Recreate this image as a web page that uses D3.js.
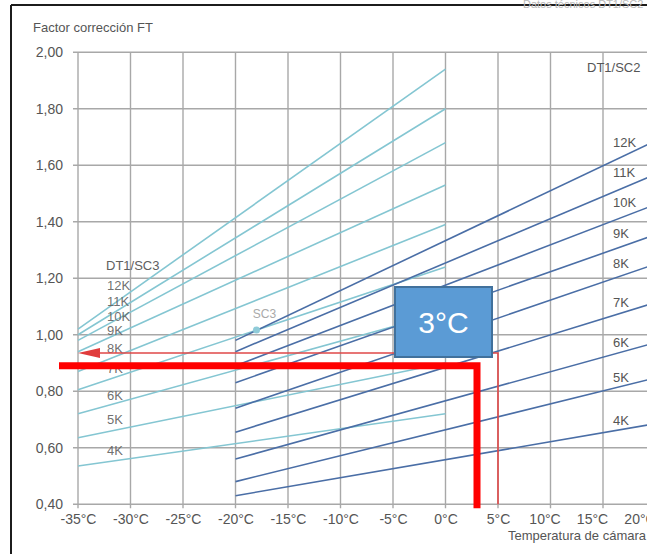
<!DOCTYPE html>
<html>
<head>
<meta charset="utf-8">
<script src="https://cdn.jsdelivr.net/npm/d3@7"></script>
<style>
  html, body { margin: 0; padding: 0; background: #fff; }
  svg { display: block; }
  text { font-family: "Liberation Sans", Arial, sans-serif; }
</style>
</head>
<body>
<svg id="chart" width="647" height="554"></svg>
<script>
// Temperature differences of each curve (same order in every series below)
const deltaLabels = ["12K", "11K", "10K", "9K", "8K", "7K", "6K", "5K", "4K"];

// SC3 curves: correction factor at -35 °C and at 0 °C
const sc3Temps = [-35, 0];
const sc3Start = [1.02, 1.00, 0.98, 0.94, 0.87, 0.805, 0.72, 0.635, 0.535];
const sc3End   = [1.94, 1.80, 1.68, 1.53, 1.39, 1.24, 1.08, 0.90, 0.72];

// SC2 curves: correction factor at -20 °C and at 20 °C
const sc2Temps = [-20, 20];
const sc2Start = [0.98, 0.94, 0.89, 0.83, 0.74, 0.655, 0.56, 0.48, 0.43];
const sc2End   = [1.686, 1.568, 1.461, 1.354, 1.25, 1.114, 0.972, 0.847, 0.685];

// Axis ticks
const tempTicks = [-35, -30, -25, -20, -15, -10, -5, 0, 5, 10, 15, 20];
const factorTicks = [0.40, 0.60, 0.80, 1.00, 1.20, 1.40, 1.60, 1.80, 2.00];

// Worked readings: 5 °C -> 0.935 (reference), 3 °C -> 0.89 (highlight)
const refReading = { temp: 5, factor: 0.935 };
const mainReading = { temp: 3, factor: 0.89, label: "3°C" };

// SC3 marker on the 7K curve
const sc3MarkerTemp = -18;

const svg = d3.select("#chart");

const x = d3.scaleLinear().domain([-35, 20]).range([78, 655.5]);
const y = d3.scaleLinear().domain([0.4, 2.0]).range([504.2, 52.2]);

const gridColor = "#a8a8a8";
const textColor = "#555555";

// Frame of the sheet
svg.append("line").attr("x1", 11).attr("y1", 5).attr("x2", 647).attr("y2", 5)
  .attr("stroke", "#1c1c1c").attr("stroke-width", 2);
svg.append("line").attr("x1", 11).attr("y1", 5).attr("x2", 11).attr("y2", 554)
  .attr("stroke", "#1c1c1c").attr("stroke-width", 2);

// Faint sheet header behind the frame
svg.append("text").attr("x", 523).attr("y", 8)
  .attr("font-size", 11).attr("fill", "#b8b8b8")
  .text("Datos técnicos DT1/SC2");

// Horizontal grid (with a short stub left of the axis)
svg.append("g").selectAll("line").data(factorTicks).join("line")
  .attr("x1", x(-35) - 5).attr("x2", 660)
  .attr("y1", d => y(d)).attr("y2", d => y(d))
  .attr("stroke", gridColor).attr("stroke-width", 1.4);

// Vertical grid (with a short stub below the axis)
svg.append("g").selectAll("line").data(tempTicks).join("line")
  .attr("x1", d => x(d)).attr("x2", d => x(d))
  .attr("y1", y(2.0)).attr("y2", y(0.4) + 4)
  .attr("stroke", gridColor).attr("stroke-width", 1.4);

// Axes (labels only, the grid above carries the lines)
const yAxis = d3.axisLeft(y).tickValues(factorTicks)
  .tickFormat(d => d3.format(".2f")(d).replace(".", ","))
  .tickSize(5).tickPadding(10);
const gy = svg.append("g").attr("transform", `translate(${x(-35)},0)`).call(yAxis);
gy.select(".domain").remove();
gy.selectAll(".tick line").remove();
gy.selectAll("text").attr("font-size", 14).attr("fill", textColor)
  .attr("font-family", "'Liberation Sans', Arial, sans-serif");

const xAxis = d3.axisBottom(x).tickValues(tempTicks)
  .tickFormat(d => d + "°C").tickSize(4).tickPadding(6);
const gx = svg.append("g").attr("transform", `translate(0,${y(0.4)})`).call(xAxis);
gx.select(".domain").remove();
gx.selectAll(".tick line").remove();
// the right-most labels are packed slightly left so they stay on the sheet
const labelShift = { 10: -6, 15: -11, 20: -16 };
gx.selectAll("text").attr("font-size", 14).attr("fill", textColor)
  .attr("font-family", "'Liberation Sans', Arial, sans-serif")
  .attr("dx", d => labelShift[d] || 0);

// Axis titles
svg.append("text").attr("x", 33).attr("y", 32)
  .attr("font-size", 13).attr("fill", textColor)
  .text("Factor corrección FT");
svg.append("text").attr("x", 508).attr("y", 540)
  .attr("font-size", 13).attr("fill", textColor)
  .text("Temperatura de cámara (°C)");

const line = d3.line().x(d => x(d[0])).y(d => y(d[1]));

// SC3 family (light)
svg.append("g").selectAll("path").data(deltaLabels).join("path")
  .attr("d", (k, i) => line([[sc3Temps[0], sc3Start[i]], [sc3Temps[1], sc3End[i]]]))
  .attr("fill", "none").attr("stroke", "#84c6d2").attr("stroke-width", 1.6);

// SC2 family (dark)
svg.append("g").selectAll("path").data(deltaLabels).join("path")
  .attr("d", (k, i) => line([[sc2Temps[0], sc2Start[i]], [sc2Temps[1], sc2End[i]]]))
  .attr("fill", "none").attr("stroke", "#4a6ea6").attr("stroke-width", 1.6);

// SC3 marker and label
const i7 = deltaLabels.indexOf("7K");
const markerVal = sc3Start[i7] + (sc3End[i7] - sc3Start[i7]) *
  (sc3MarkerTemp - sc3Temps[0]) / (sc3Temps[1] - sc3Temps[0]);
svg.append("circle").attr("cx", x(sc3MarkerTemp)).attr("cy", y(markerVal))
  .attr("r", 3.5).attr("fill", "#8fcbd8");
svg.append("text").attr("x", x(sc3MarkerTemp) + 8).attr("y", y(markerVal) - 12)
  .attr("text-anchor", "middle").attr("font-size", 12).attr("fill", "#a9a9a9")
  .text("SC3");

// Family titles
svg.append("text").attr("x", 106).attr("y", 270)
  .attr("font-size", 13).attr("fill", "#606060").text("DT1/SC3");
svg.append("text").attr("x", 587).attr("y", 72)
  .attr("font-size", 13).attr("fill", textColor).text("DT1/SC2");

// Curve labels
const sc3LabelY = [285, 301, 316, 330, 348, 368, 395, 419, 450];
const sc2LabelY = [142, 172, 202, 233, 263, 302, 342, 377, 420];
svg.append("g").selectAll("text").data(deltaLabels).join("text")
  .attr("x", 107).attr("y", (d, i) => sc3LabelY[i]).attr("dy", "0.35em")
  .attr("font-size", 13).attr("fill", "#5e5e5e").attr("fill-opacity", 0.9)
  .text(d => d);
svg.append("g").selectAll("text").data(deltaLabels).join("text")
  .attr("x", 613).attr("y", (d, i) => sc2LabelY[i]).attr("dy", "0.35em")
  .attr("font-size", 13).attr("fill", textColor)
  .text(d => d);

// Reference reading: thin red guide with arrow to the factor axis
const rx = x(refReading.temp), ry = y(refReading.factor);
svg.append("path")
  .attr("d", `M${rx},${y(0.4)} V${ry} H${x(-35) + 20}`)
  .attr("fill", "none").attr("stroke", "#e04848").attr("stroke-width", 1.6);
svg.append("path")
  .attr("d", `M${x(-35)},${ry} L${x(-35) + 22},${ry - 5} L${x(-35) + 22},${ry + 5} Z`)
  .attr("fill", "#e03c3c");

// Highlighted reading: thick red guide
const mx = x(mainReading.temp), my = y(mainReading.factor);
svg.append("path")
  .attr("d", `M59,${my} H${mx} V${y(0.4) + 4}`)
  .attr("fill", "none").attr("stroke", "#ff0000").attr("stroke-width", 7)
  .attr("stroke-linejoin", "miter");

// Temperature callout
const box = svg.append("g");
box.append("rect").attr("x", 395).attr("y", 287).attr("width", 97).attr("height", 70)
  .attr("fill", "#5b9bd5").attr("stroke", "#41719c").attr("stroke-width", 2);
box.append("text").attr("x", 443.5).attr("y", 322).attr("dy", "0.36em")
  .attr("text-anchor", "middle").attr("font-size", 30).attr("fill", "#ffffff")
  .attr("font-family", "Lato, 'Open Sans', sans-serif")
  .text(mainReading.label);
</script>
</body>
</html>
